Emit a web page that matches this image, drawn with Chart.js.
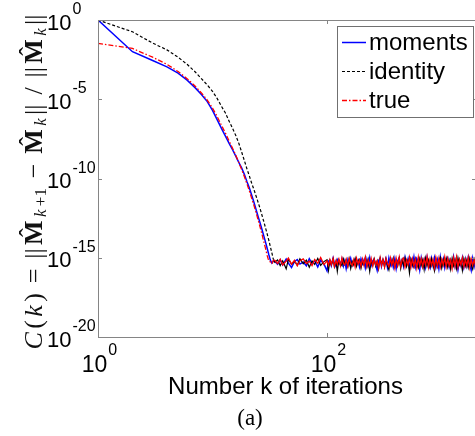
<!DOCTYPE html>
<html>
<head>
<meta charset="utf-8">
<script src="https://cdn.jsdelivr.net/npm/chart.js@4.4.1/dist/chart.umd.min.js"></script>
<style>
html, body { margin: 0; padding: 0; background: #fff; overflow: hidden; }
#wrap { width: 480px; height: 436px; }
</style>
</head>
<body>
<div id="wrap"><canvas id="myChart" width="480" height="436"></canvas></div>
<script>
// iterations k = 1..34 (descent), then sampled k along the noise floor
const kSteps = [1, 2, 3, 4, 5, 6, 7, 8, 9, 10, 11, 12, 13, 14, 15, 16, 17, 18, 19, 20,
    21, 22, 23, 24, 25, 26, 27, 28, 29, 30, 31, 32, 33, 34];
const kFloor = [35, 37, 39, 41, 44, 46, 49, 52, 55, 58,
    62, 66, 70, 74, 78, 83, 88, 94, 100, 103,
    106, 109, 113, 116, 120, 123, 127, 131, 135, 139,
    143, 147, 152, 156, 161, 166, 171, 176, 181, 187,
    192, 198, 204, 210, 216, 223, 229, 236, 243, 251,
    258, 266, 274, 282, 291, 299, 308, 318, 327, 337,
    347, 358, 368, 379, 391, 402, 414, 427, 440, 453,
    466, 480, 495, 510, 525, 541, 557, 574, 591, 608,
    627, 645, 665, 685, 705, 726, 748, 771, 794, 818,
    842, 867, 893, 920, 948, 976, 1005, 1036, 1067, 1099,
    1132, 1166, 1201, 1237, 1274, 1312, 1352, 1392, 1434, 1477,
    1521, 1567, 1614, 1662, 1712, 1764, 1816, 1871, 1927, 1985];

const momentsCurve = [1, 1e-2, 2.8e-3, 1.1e-3, 4.5e-4, 1.6e-4, 5.6e-5, 2.0e-5, 7.1e-6, 2.0e-6,
    5.0e-7, 1.4e-7, 4.5e-8, 1.6e-8, 6.3e-9, 2.5e-9, 1.0e-9, 4.5e-10, 1.8e-10, 6.3e-11,
    2.5e-11, 8.9e-12, 3.2e-12, 1.1e-12, 4.0e-13, 1.6e-13, 6.3e-14, 2.5e-14, 1.0e-14, 4.0e-15,
    1.6e-15, 7.1e-16, 4.6e-16, 6.2e-16];
const identityCurve = [1, 1.8e-1, 3.5e-2, 1.3e-2, 4.5e-3, 1.6e-3, 5.6e-4, 2.0e-4, 7.9e-5, 3.2e-5,
    1.1e-5, 3.5e-6, 1.3e-6, 4.0e-7, 1.4e-7, 5.0e-8, 1.6e-8, 4.5e-9, 1.3e-9, 4.0e-10,
    1.4e-10, 5.0e-11, 2.0e-11, 7.9e-12, 3.2e-12, 1.3e-12, 5.0e-13, 2.0e-13, 7.9e-14, 3.2e-14,
    1.3e-14, 5.0e-15, 2.0e-15, 7.9e-16];
const trueCurve = [3.4e-2, 1.6e-2, 4.5e-3, 1.6e-3, 5.6e-4, 2.0e-4, 7.1e-5, 2.5e-5, 8.9e-6, 2.8e-6,
    7.9e-7, 2.2e-7, 7.1e-8, 2.2e-8, 7.9e-9, 2.8e-9, 1.0e-9, 3.5e-10, 1.3e-10, 4.5e-11,
    1.6e-11, 5.6e-12, 2.0e-12, 7.1e-13, 2.5e-13, 8.9e-14, 3.2e-14, 1.1e-14, 4.0e-15, 1.4e-15,
    6.3e-16, 5.5e-16, 4.1e-16, 7.0e-16];

// noise floor, one value per kFloor entry
const momentsFloor = [
    6.1e-16, 3.9e-16, 7.4e-16, 3.5e-16, 8.2e-16, 4.6e-16, 2.4e-16, 5.8e-16, 7.6e-16, 4.0e-16,
    5.4e-16, 3.1e-16, 8.8e-16, 4.3e-16, 6.5e-16, 2.6e-16, 7.0e-16, 4.1e-16, 1.5e-16, 6.2e-16,
    6.9e-16, 3.2e-16, 9.5e-16, 4.4e-16, 2.8e-16, 7.8e-16, 5.0e-16, 3.5e-16, 8.3e-16, 3.0e-16,
    6.4e-16, 2.1e-16, 7.5e-16, 3.9e-16, 9.0e-16, 3.3e-16, 5.6e-16, 8.0e-16, 3.6e-16, 6.8e-16,
    2.7e-16, 8.6e-16, 4.2e-16, 7.1e-16, 2.3e-16, 7.9e-16, 3.4e-16, 1.02e-15, 3.2e-16, 6.3e-16,
    8.1e-16, 3.7e-16, 1.6e-16, 6.6e-16, 9.3e-16, 2.9e-16, 7.4e-16, 4.0e-16, 8.7e-16, 2.5e-16,
    9.6e-16, 3.5e-16, 7.2e-16, 2.6e-16, 8.8e-16, 2.1e-16, 6.5e-16, 9.9e-16, 3.1e-16, 7.0e-16,
    2.8e-16, 1.05e-15, 3.6e-16, 8.3e-16, 2.2e-16, 7.7e-16, 3.4e-16, 1.12e-15, 2.7e-16, 8.9e-16,
    5.9e-16, 1.7e-16, 9.4e-16, 3.0e-16, 7.6e-16, 2.5e-16, 1.08e-15, 4.0e-16, 2.3e-16, 9.1e-16,
    3.3e-16, 9.8e-16, 2.6e-16, 7.4e-16, 2.0e-16, 1.10e-15, 3.1e-16, 8.5e-16, 2.4e-16, 7.9e-16,
    1.03e-15, 2.7e-16, 7.0e-16, 3.6e-16, 1.15e-15, 2.9e-16, 8.6e-16, 1.8e-16, 6.9e-16, 3.2e-16,
    9.7e-16, 2.5e-16, 8.1e-16, 3.0e-16, 1.06e-15, 3.8e-16, 1.6e-16, 9.0e-16, 2.8e-16, 7.3e-16];
const identityFloor = [
    5.2e-16, 7.3e-16, 3.2e-16, 6.4e-16, 2.0e-16, 8.1e-16, 3.9e-16, 6.0e-16, 3.4e-16, 8.6e-16,
    4.2e-16, 7.0e-16, 2.5e-16, 6.3e-16, 3.8e-16, 9.1e-16, 3.3e-16, 5.7e-16, 7.6e-16, 1.6e-16,
    6.6e-16, 3.6e-16, 8.0e-16, 2.7e-16, 6.1e-16, 1.4e-16, 7.3e-16, 4.5e-16, 3.2e-16, 8.4e-16,
    3.9e-16, 7.1e-16, 2.8e-16, 8.2e-16, 2.1e-16, 6.0e-16, 3.5e-16, 9.0e-16, 2.9e-16, 6.7e-16,
    7.8e-16, 2.2e-16, 5.8e-16, 3.7e-16, 9.7e-16, 2.8e-16, 7.4e-16, 1.4e-16, 6.5e-16, 3.4e-16,
    8.3e-16, 3.0e-16, 6.2e-16, 2.0e-16, 9.0e-16, 3.9e-16, 7.1e-16, 2.6e-16, 8.0e-16, 3.3e-16,
    1.7e-16, 7.6e-16, 3.6e-16, 9.6e-16, 2.7e-16, 6.8e-16, 3.1e-16, 8.9e-16, 2.1e-16, 7.2e-16,
    3.4e-16, 9.5e-16, 2.8e-16, 6.4e-16, 1.1e-16, 8.0e-16, 3.9e-16, 2.5e-16, 8.7e-16, 4.1e-16,
    2.3e-16, 8.6e-16, 3.3e-16, 7.5e-16, 1.8e-16, 9.4e-16, 3.0e-16, 7.2e-16, 2.7e-16, 8.3e-16,
    3.8e-16, 1.5e-16, 8.1e-16, 2.9e-16, 6.9e-16, 1.04e-15, 2.3e-16, 7.6e-16, 3.5e-16, 9.2e-16,
    2.6e-16, 6.8e-16, 1.9e-16, 8.8e-16, 3.1e-16, 7.5e-16, 2.1e-16, 9.9e-16, 3.6e-16, 6.6e-16,
    1.6e-16, 8.5e-16, 3.0e-16, 7.3e-16, 2.5e-16, 9.3e-16, 3.7e-16, 1.9e-16, 8.0e-16, 3.4e-16];
const trueFloor = [
    6.8e-16, 4.2e-16, 8.0e-16, 3.5e-16, 6.2e-16, 9.6e-16, 3.9e-16, 6.9e-16, 3.1e-16, 6.6e-16,
    8.5e-16, 4.3e-16, 6.0e-16, 3.2e-16, 7.8e-16, 4.5e-16, 1.04e-15, 3.7e-16, 6.4e-16, 3.4e-16,
    7.4e-16, 3.6e-16, 9.2e-16, 2.8e-16, 6.7e-16, 3.9e-16, 8.3e-16, 3.1e-16, 9.8e-16, 4.4e-16,
    3.5e-16, 8.0e-16, 2.9e-16, 8.9e-16, 4.6e-16, 3.2e-16, 7.5e-16, 2.6e-16, 9.5e-16, 4.0e-16,
    7.2e-16, 2.9e-16, 8.4e-16, 3.5e-16, 1.08e-15, 2.8e-16, 6.9e-16, 3.3e-16, 9.1e-16, 3.0e-16,
    8.0e-16, 3.6e-16, 6.4e-16, 2.2e-16, 9.7e-16, 3.1e-16, 7.8e-16, 2.6e-16, 8.9e-16, 4.1e-16,
    2.7e-16, 9.6e-16, 3.4e-16, 8.1e-16, 2.3e-16, 9.0e-16, 3.2e-16, 1.09e-15, 2.8e-16, 7.7e-16,
    9.8e-16, 2.5e-16, 7.4e-16, 3.6e-16, 1.06e-15, 2.6e-16, 8.6e-16, 2.9e-16, 8.0e-16, 2.2e-16,
    1.09e-15, 3.1e-16, 8.8e-16, 2.7e-16, 8.1e-16, 3.5e-16, 1.18e-15, 2.5e-16, 8.4e-16, 3.2e-16,
    7.9e-16, 2.4e-16, 1.02e-15, 2.9e-16, 9.2e-16, 2.6e-16, 8.1e-16, 3.4e-16, 1.14e-15, 2.7e-16,
    9.0e-16, 3.2e-16, 7.3e-16, 2.1e-16, 1.01e-15, 2.9e-16, 1.10e-15, 2.5e-16, 7.8e-16, 3.5e-16,
    9.9e-16, 2.7e-16, 7.9e-16, 3.1e-16, 1.07e-15, 2.4e-16, 8.6e-16, 3.3e-16, 7.4e-16, 2.8e-16];

const xTicks = [1, 100];
const xTickExp = ['0', '2'];
const yTicks = [1, 1e-5, 1e-10, 1e-15, 1e-20];
const yTickExp = ['0', '-5', '-10', '-15', '-20'];

const kAll = kSteps.concat(kFloor);
const toPoints = (vals) => vals.map((v, i) => ({x: kAll[i], y: v}));
// dashes only on the descent; the dense floor reads as solid
const floorSolid = {borderDash: (c) => c.p0.parsed.x >= 34 ? [] : undefined};

const sans = '"Liberation Sans", Arial, sans-serif';
const serif = '"Liberation Serif", "Times New Roman", serif';

// boxed axes with inward ticks, MATLAB style
const decor = {
    id: 'decor',
    afterDatasetsDraw(chart) {
        const {ctx, chartArea: a, scales: {x, y}} = chart;
        ctx.save();
        ctx.strokeStyle = '#858585';
        ctx.lineWidth = 1;
        ctx.strokeRect(a.left + 0.5, a.top + 0.5, a.right - a.left, a.bottom - a.top);
        ctx.beginPath();
        xTicks.forEach(v => {
            const px = Math.round(x.getPixelForValue(v)) + 0.5;
            ctx.moveTo(px, a.bottom); ctx.lineTo(px, a.bottom - 4);
            ctx.moveTo(px, a.top); ctx.lineTo(px, a.top + 4);
        });
        yTicks.forEach(v => {
            const py = Math.round(y.getPixelForValue(v)) + 0.5;
            ctx.moveTo(a.left, py); ctx.lineTo(a.left + 4, py);
            ctx.moveTo(a.right, py); ctx.lineTo(a.right - 4, py);
        });
        ctx.stroke();
        ctx.restore();
    },
    afterDraw(chart) {
        const {ctx, chartArea: a, scales: {x, y}} = chart;
        ctx.save();
        ctx.fillStyle = '#000';
        ctx.textBaseline = 'alphabetic';
        ctx.textAlign = 'left';

        // x tick labels: 10 with superscript exponent
        xTicks.forEach((v, i) => {
            const px = x.getPixelForValue(v);
            ctx.font = '23px ' + sans;
            const w1 = ctx.measureText('10').width;
            ctx.font = '16px ' + sans;
            const w2 = ctx.measureText(xTickExp[i]).width;
            const left = px - (w1 + w2) / 2 + 1;
            ctx.font = '23px ' + sans;
            ctx.fillText('10', left, a.bottom + 35);
            ctx.font = '16px ' + sans;
            ctx.fillText(xTickExp[i], left + w1 + 1, a.bottom + 18);
        });

        // y tick labels
        yTicks.forEach((v, i) => {
            const py = y.getPixelForValue(v);
            ctx.font = '22px ' + sans;
            ctx.fillText('10', 47, py + 9.5);
            const w1 = ctx.measureText('10').width;
            ctx.font = '16px ' + sans;
            ctx.fillText(yTickExp[i], 47 + w1 + 1, py - 6);
        });

        // x axis title and caption
        ctx.textAlign = 'center';
        ctx.font = '24px ' + sans;
        ctx.fillText('Number k of iterations', (a.left + 473) / 2, 394);
        ctx.font = '23px ' + serif;
        ctx.fillText('(a)', 250, 425);

        // y axis title, rotated, spread to the reference length
        const S = 26, s = 17;
        const hat = true;
        const pieces = [
            {t: 'C', f: 'italic ' + S + 'px ' + serif},
            {t: '(', f: S + 'px ' + serif},
            {t: 'k', f: 'italic ' + S + 'px ' + serif},
            {t: ')', f: S + 'px ' + serif},
            {t: ' = ', f: S + 'px ' + serif},
            {t: '||', f: S + 'px ' + serif},
            {t: 'M', f: 'bold ' + S + 'px ' + serif, hat},
            {t: 'k', f: 'italic ' + s + 'px ' + serif, sub: true},
            {t: '+1', f: s + 'px ' + serif, sub: true},
            {t: ' \u2212 ', f: S + 'px ' + serif},
            {t: 'M', f: 'bold ' + S + 'px ' + serif, hat},
            {t: 'k', f: 'italic ' + s + 'px ' + serif, sub: true},
            {t: '||', f: S + 'px ' + serif},
            {t: ' / ', f: S + 'px ' + serif},
            {t: '||', f: S + 'px ' + serif},
            {t: 'M', f: 'bold ' + S + 'px ' + serif, hat},
            {t: 'k', f: 'italic ' + s + 'px ' + serif, sub: true},
            {t: '||', f: S + 'px ' + serif}
        ];
        let total = 0;
        pieces.forEach(p => { ctx.font = p.f; p.w = ctx.measureText(p.t).width; total += p.w; });
        const gap = Math.max(0, (335 - total) / (pieces.length - 1));
        ctx.translate(42, 182);
        ctx.rotate(-Math.PI / 2);
        ctx.textAlign = 'left';
        ctx.fillStyle = '#111';
        let cx = -(total + gap * (pieces.length - 1)) / 2;
        pieces.forEach(p => {
            ctx.font = p.f;
            ctx.fillText(p.t, cx, p.sub ? 4 : 0);
            if (p.hat) {
                ctx.font = S + 'px ' + serif;
                const hw = ctx.measureText('\u02C6').width;
                ctx.fillText('\u02C6', cx + (p.w - hw) / 2, -5);
            }
            cx += p.w + gap;
        });
        ctx.restore();

        // legend box inside the axes
        ctx.save();
        const lx = 337, ly = 26, lw = 136, lh = 91;
        ctx.fillStyle = '#fff';
        ctx.fillRect(lx, ly, lw, lh);
        ctx.strokeStyle = '#707070';
        ctx.lineWidth = 1;
        ctx.strokeRect(lx + 0.5, ly + 0.5, lw, lh);
        ctx.font = '24px ' + sans;
        ctx.textBaseline = 'middle';
        ctx.textAlign = 'left';
        chart.data.datasets.forEach((ds, i) => {
            const cy = 42 + i * 29;
            ctx.strokeStyle = ds.borderColor;
            ctx.lineWidth = ds.borderWidth;
            ctx.setLineDash(ds.borderDash || []);
            ctx.beginPath();
            ctx.moveTo(342, cy + 0.5);
            ctx.lineTo(366, cy + 0.5);
            ctx.stroke();
            ctx.setLineDash([]);
            ctx.fillStyle = '#000';
            ctx.fillText(ds.label, 369, cy + 1);
        });
        ctx.restore();
    }
};

const ctx = document.getElementById('myChart');
const errChart = new Chart(ctx, {
    type: 'line',
    data: {
        datasets: [{
            label: 'moments',
            data: toPoints(momentsCurve.concat(momentsFloor)),
            borderColor: '#0000ff',
            borderWidth: 1.5,
            order: 2
        }, {
            label: 'identity',
            data: toPoints(identityCurve.concat(identityFloor)),
            borderColor: '#000000',
            borderWidth: 1.2,
            borderDash: [3, 2],
            segment: floorSolid,
            order: 1
        }, {
            label: 'true',
            data: toPoints(trueCurve.concat(trueFloor)),
            borderColor: '#ff0000',
            borderWidth: 1.3,
            borderDash: [5, 2, 1.5, 2],
            segment: floorSolid,
            order: 0
        }]
    },
    options: {
        responsive: false,
        animation: false,
        layout: {padding: {left: 98, top: 20, right: 4, bottom: 99}},
        elements: {point: {radius: 0}, line: {tension: 0, fill: false}},
        plugins: {legend: {display: false}, tooltip: {enabled: false}},
        scales: {
            x: {
                type: 'logarithmic', min: 1, max: 2000,
                grid: {display: false}, border: {display: false},
                ticks: {display: false},
                afterFit: (s) => { s.height = 0; }
            },
            y: {
                type: 'logarithmic', min: 1e-20, max: 1,
                grid: {display: false}, border: {display: false},
                ticks: {display: false},
                afterFit: (s) => { s.width = 0; }
            }
        }
    },
    plugins: [decor]
});
</script>
</body>
</html>
